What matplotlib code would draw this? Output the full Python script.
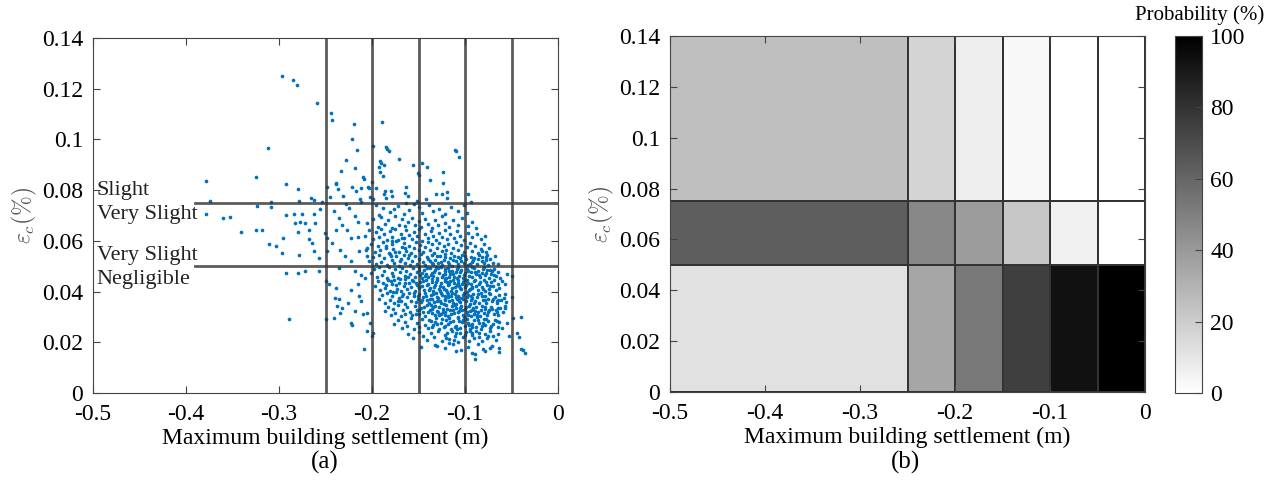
import numpy as np
import matplotlib
matplotlib.use("Agg")
import matplotlib.pyplot as plt
from matplotlib.ticker import FormatStrFormatter

plt.rcParams['font.family'] = ['Liberation Serif', 'DejaVu Serif']
plt.rcParams['mathtext.fontset'] = 'cm'
plt.rcParams['axes.unicode_minus'] = False

# --- (a) scatter: outlying points (settlement m, strain %)
sparse_pts = [
    (-0.297, 0.1250), (-0.285, 0.1236), (-0.281, 0.1215), (-0.259, 0.1143),
    (-0.244, 0.1104), (-0.243, 0.1077), (-0.219, 0.1060), (-0.189, 0.1068),
    (-0.312, 0.0968), (-0.221, 0.1000), (-0.216, 0.0957), (-0.199, 0.0976),
    (-0.185, 0.0972), (-0.184, 0.0963), (-0.182, 0.0955), (-0.111, 0.0960),
    (-0.110, 0.0954), (-0.106, 0.0932), (-0.378, 0.0837), (-0.325, 0.0853),
    (-0.292, 0.0823), (-0.280, 0.0805), (-0.248, 0.0811), (-0.239, 0.0823),
    (-0.222, 0.0811), (-0.209, 0.0845), (-0.203, 0.0810), (-0.228, 0.0920),
    (-0.218, 0.0889), (-0.191, 0.0914), (-0.190, 0.0909), (-0.187, 0.0900),
    (-0.193, 0.0890), (-0.191, 0.0873), (-0.188, 0.0857), (-0.171, 0.0922),
    (-0.156, 0.0899), (-0.151, 0.0867), (-0.146, 0.0909), (-0.141, 0.0890),
    (-0.150, 0.0860), (-0.124, 0.0870), (-0.124, 0.0827), (-0.138, 0.0840),
    (-0.125, 0.0784), (-0.119, 0.0794), (-0.097, 0.0784), (-0.094, 0.0755),
    (-0.233, 0.0877), (-0.210, 0.0851), (-0.239, 0.0830), (-0.237, 0.0805),
    (-0.217, 0.0797), (-0.212, 0.0810), (-0.204, 0.0811), (-0.200, 0.0834),
    (-0.196, 0.0808), (-0.180, 0.0798), (-0.163, 0.0811), (-0.161, 0.0777),
    (-0.245, 0.0774), (-0.231, 0.0777), (-0.202, 0.0774), (-0.187, 0.0785),
    (-0.185, 0.0768), (-0.213, 0.0765),
    (-0.374, 0.0757), (-0.379, 0.0707), (-0.360, 0.0692), (-0.353, 0.0693),
    (-0.341, 0.0635), (-0.324, 0.0738), (-0.325, 0.0644), (-0.318, 0.0644),
    (-0.309, 0.0755), (-0.309, 0.0735), (-0.293, 0.0702), (-0.296, 0.0613),
    (-0.311, 0.0587), (-0.303, 0.0578), (-0.297, 0.0552), (-0.284, 0.0705),
    (-0.283, 0.0670), (-0.280, 0.0633), (-0.277, 0.0676), (-0.275, 0.0705),
    (-0.272, 0.0670), (-0.268, 0.0644), (-0.266, 0.0768), (-0.278, 0.0757),
    (-0.262, 0.0761), (-0.262, 0.0705), (-0.261, 0.0672), (-0.256, 0.0726),
    (-0.254, 0.0755), (-0.278, 0.0545), (-0.268, 0.0607), (-0.264, 0.0591),
    (-0.262, 0.0559), (-0.257, 0.0532), (-0.251, 0.0631), (-0.248, 0.0611),
    (-0.248, 0.0559), (-0.243, 0.0591), (-0.241, 0.0716), (-0.236, 0.0689),
    (-0.239, 0.0644), (-0.232, 0.0663), (-0.228, 0.0744), (-0.225, 0.0729),
    (-0.218, 0.0698), (-0.212, 0.0755), (-0.215, 0.0676), (-0.227, 0.0644),
    (-0.223, 0.0611), (-0.215, 0.0617), (-0.234, 0.0565), (-0.229, 0.0539),
    (-0.223, 0.0519), (-0.214, 0.0559), (-0.206, 0.0565), (-0.205, 0.0539),
    (-0.292, 0.0474), (-0.280, 0.0474), (-0.272, 0.0480), (-0.257, 0.0483),
    (-0.236, 0.0493), (-0.218, 0.0480), (-0.212, 0.0467), (-0.208, 0.0454),
    (-0.250, 0.0441), (-0.246, 0.0428), (-0.239, 0.0415), (-0.240, 0.0376),
    (-0.236, 0.0369), (-0.238, 0.0343), (-0.232, 0.0336), (-0.234, 0.0317),
    (-0.226, 0.0356), (-0.223, 0.0408), (-0.215, 0.0428), (-0.214, 0.0382),
    (-0.212, 0.0362), (-0.210, 0.0310), (-0.218, 0.0323), (-0.205, 0.0317),
    (-0.223, 0.0277), (-0.221, 0.0267), (-0.250, 0.0290), (-0.241, 0.0297),
    (-0.289, 0.0293), (-0.202, 0.0277), (-0.200, 0.0225), (-0.199, 0.0238),
    (-0.209, 0.0173), (-0.205, 0.0245),
    (-0.048, 0.0297), (-0.040, 0.0300), (-0.044, 0.0238), (-0.042, 0.0219),
    (-0.040, 0.0173), (-0.038, 0.0169), (-0.035, 0.0156), (-0.049, 0.0378),
    (-0.049, 0.0460), (-0.055, 0.0471), (-0.057, 0.0428), (-0.057, 0.0389),
    (-0.057, 0.0334), (-0.055, 0.0277), (-0.053, 0.0225), (-0.063, 0.0160),
    (-0.063, 0.0179), (-0.065, 0.0336), (-0.066, 0.0362), (-0.069, 0.0467),
    (-0.073, 0.0487), (-0.077, 0.0526), (-0.076, 0.0546), (-0.082, 0.0559),
    (-0.089, 0.0133), (-0.089, 0.0153), (-0.110, 0.0166), (-0.130, 0.0186),
    (-0.147, 0.0182), (-0.078, 0.0166), (-0.073, 0.0179),
]

# --- (a) scatter: dense cloud, (settlement mm, strain 1e-4 %)
dense_pts = [
    (-199, 765), (-178, 776), (-165, 789), (-142, 766), (-131, 784), (-186, 797), (-152, 758), (-119, 770),
    (-196, 742), (-188, 728), (-181, 712), (-172, 738), (-166, 705), (-160, 721), (-155, 746), (-149, 733),
    (-146, 709), (-139, 741), (-134, 718), (-128, 727), (-121, 704), (-115, 735), (-108, 716), (-101, 742),
    (-98, 709), (-192, 703), (-176, 724), (-163, 748),
    (-205, 672), (-199, 688), (-194, 655), (-190, 694), (-186, 667), (-183, 681), (-179, 652), (-175, 698),
    (-171, 664), (-168, 685), (-164, 659), (-161, 676), (-157, 692), (-154, 661), (-150, 679), (-147, 655),
    (-143, 688), (-140, 668), (-136, 652), (-132, 684), (-129, 662), (-125, 697), (-121, 671), (-117, 655),
    (-113, 683), (-108, 664), (-103, 692), (-97, 657), (-93, 676), (-88, 651),
    (-208, 621), (-203, 642), (-199, 608), (-196, 633), (-193, 615), (-190, 648), (-187, 626), (-184, 604),
    (-181, 638), (-178, 617), (-175, 645), (-172, 603), (-169, 628), (-166, 612), (-163, 641), (-160, 622),
    (-157, 606), (-155, 634), (-152, 618), (-149, 647), (-146, 601), (-143, 627), (-140, 613), (-137, 639),
    (-134, 620), (-131, 605), (-128, 632), (-125, 615), (-122, 644), (-119, 609), (-116, 628), (-112, 612),
    (-109, 637), (-105, 619), (-101, 604), (-97, 631), (-92, 614), (-87, 626), (-83, 608), (-79, 618),
    (-205, 572), (-201, 588), (-197, 556), (-194, 579), (-191, 563), (-188, 595), (-185, 571), (-182, 553),
    (-179, 586), (-177, 566), (-174, 598), (-171, 558), (-168, 577), (-166, 592), (-163, 561), (-160, 581),
    (-158, 553), (-155, 570), (-153, 594), (-150, 562), (-148, 583), (-145, 556), (-143, 575), (-140, 597),
    (-138, 564), (-135, 586), (-133, 552), (-130, 571), (-128, 593), (-125, 559), (-123, 578), (-120, 562),
    (-118, 589), (-115, 551), (-113, 573), (-110, 596), (-107, 565), (-104, 582), (-101, 556), (-98, 574),
    (-95, 591), (-92, 561), (-89, 578), (-86, 553), (-83, 569), (-80, 588), (-77, 557), (-74, 571),
    (-203, 521), (-199, 538), (-196, 507), (-193, 546), (-190, 515), (-187, 532), (-184, 503), (-181, 548),
    (-179, 524), (-176, 511), (-174, 539), (-171, 502), (-169, 527), (-166, 545), (-164, 514), (-161, 533),
    (-159, 506), (-157, 522), (-154, 541), (-152, 509), (-150, 528), (-147, 547), (-145, 516), (-143, 503),
    (-141, 535), (-138, 520), (-136, 544), (-134, 508), (-132, 526), (-129, 512), (-127, 539), (-125, 504),
    (-123, 523), (-121, 548), (-118, 515), (-116, 531), (-114, 502), (-112, 541), (-110, 519), (-107, 507),
    (-105, 533), (-103, 546), (-101, 512), (-99, 527), (-97, 503), (-94, 538), (-92, 517), (-90, 531),
    (-87, 508), (-85, 544), (-82, 522), (-80, 511), (-77, 535), (-75, 504), (-73, 527), (-70, 514),
    (-68, 539), (-65, 508),
    (-201, 472), (-198, 488), (-195, 456), (-192, 495), (-189, 467), (-187, 481), (-184, 453), (-182, 498),
    (-179, 474), (-177, 461), (-175, 489), (-172, 452), (-170, 477), (-168, 494), (-165, 463), (-163, 482),
    (-161, 457), (-159, 471), (-156, 491), (-154, 459), (-152, 478), (-150, 496), (-148, 466), (-146, 453),
    (-144, 485), (-142, 470), (-140, 458), (-138, 493), (-136, 475), (-134, 461), (-132, 487), (-130, 452),
    (-128, 472), (-126, 498), (-124, 464), (-122, 481), (-120, 455), (-118, 492), (-116, 469), (-114, 483),
    (-112, 457), (-110, 476), (-108, 495), (-106, 461), (-104, 486), (-102, 452), (-100, 473), (-98, 490),
    (-96, 463), (-94, 478), (-92, 456), (-90, 494), (-88, 468), (-86, 482), (-84, 459), (-82, 475),
    (-80, 497), (-78, 464), (-76, 486), (-74, 453), (-72, 471), (-69, 489), (-67, 461), (-64, 477),
    (-62, 455), (-117, 459), (-131, 496), (-143, 462), (-109, 453), (-121, 490),
    (-197, 423), (-194, 441), (-191, 408), (-188, 432), (-186, 416), (-183, 447), (-181, 403), (-178, 428),
    (-176, 444), (-173, 412), (-171, 435), (-169, 401), (-166, 421), (-164, 448), (-162, 409), (-160, 433),
    (-158, 418), (-156, 442), (-154, 404), (-152, 426), (-150, 413), (-148, 439), (-146, 422), (-144, 405),
    (-142, 447), (-140, 431), (-138, 415), (-136, 438), (-134, 402), (-132, 427), (-130, 444), (-128, 411),
    (-126, 434), (-124, 419), (-122, 449), (-120, 406), (-118, 425), (-116, 441), (-114, 413), (-112, 432),
    (-110, 401), (-108, 446), (-106, 423), (-104, 409), (-102, 437), (-100, 418), (-98, 444), (-96, 405),
    (-94, 429), (-92, 414), (-90, 440), (-88, 422), (-86, 407), (-84, 436), (-82, 417), (-80, 447),
    (-78, 403), (-76, 426), (-74, 412), (-72, 438), (-70, 421), (-67, 405), (-65, 431), (-63, 415),
    (-60, 442), (-111, 418), (-119, 437), (-127, 402), (-103, 428), (-95, 412), (-133, 419), (-115, 404),
    (-107, 433), (-99, 426),
    (-192, 372), (-189, 388), (-186, 356), (-184, 395), (-181, 367), (-179, 381), (-176, 353), (-174, 398),
    (-171, 374), (-169, 361), (-167, 389), (-164, 352), (-162, 377), (-160, 394), (-158, 363), (-155, 382),
    (-153, 357), (-151, 371), (-149, 391), (-147, 359), (-145, 378), (-143, 396), (-141, 366), (-139, 353),
    (-137, 385), (-135, 370), (-133, 358), (-131, 393), (-129, 375), (-127, 361), (-125, 387), (-123, 352),
    (-121, 372), (-119, 398), (-117, 364), (-115, 381), (-113, 355), (-111, 392), (-109, 369), (-107, 383),
    (-105, 357), (-103, 376), (-101, 395), (-99, 361), (-97, 386), (-95, 352), (-93, 373), (-91, 390),
    (-89, 363), (-87, 378), (-85, 356), (-83, 394), (-81, 368), (-79, 382), (-77, 354), (-75, 371),
    (-73, 389), (-71, 361), (-68, 377), (-66, 353), (-63, 385), (-61, 366), (-58, 375), (-56, 359),
    (-114, 367), (-122, 384), (-106, 374), (-98, 378), (-130, 362), (-110, 351), (-118, 389), (-94, 366),
    (-102, 386), (-126, 396),
    (-186, 322), (-183, 341), (-180, 308), (-177, 333), (-175, 317), (-172, 346), (-169, 304), (-167, 328),
    (-164, 313), (-162, 339), (-159, 321), (-157, 306), (-154, 344), (-152, 326), (-150, 311), (-147, 337),
    (-145, 319), (-143, 302), (-141, 348), (-138, 329), (-136, 314), (-134, 341), (-132, 306), (-130, 324),
    (-128, 339), (-126, 311), (-124, 332), (-122, 318), (-120, 347), (-118, 303), (-116, 327), (-114, 342),
    (-112, 315), (-110, 334), (-108, 301), (-106, 322), (-104, 345), (-102, 309), (-100, 331), (-98, 318),
    (-96, 343), (-94, 305), (-92, 326), (-90, 312), (-88, 338), (-86, 321), (-84, 304), (-82, 345),
    (-80, 317), (-78, 332), (-76, 308), (-74, 326), (-72, 341), (-69, 313), (-67, 329), (-64, 307),
    (-62, 336), (-59, 319), (-57, 345), (-113, 329), (-121, 308), (-105, 337), (-97, 306), (-129, 318),
    (-137, 347), (-89, 324),
    (-176, 272), (-172, 289), (-168, 258), (-165, 281), (-162, 265), (-158, 294), (-155, 253), (-152, 277),
    (-149, 262), (-146, 291), (-143, 270), (-140, 255), (-137, 284), (-134, 268), (-131, 297), (-128, 252),
    (-126, 276), (-123, 261), (-120, 289), (-118, 271), (-115, 254), (-113, 283), (-110, 266), (-108, 296),
    (-105, 258), (-103, 279), (-100, 264), (-98, 292), (-95, 253), (-93, 274), (-90, 287), (-88, 261),
    (-85, 278), (-83, 251), (-80, 293), (-78, 267), (-75, 282), (-73, 256), (-70, 274), (-68, 289),
    (-65, 262), (-63, 279), (-60, 255), (-117, 294), (-102, 286), (-87, 299), (-132, 281), (-109, 251),
    (-96, 268), (-81, 276),
    (-161, 232), (-156, 218), (-150, 241), (-145, 226), (-141, 209), (-137, 237), (-133, 221), (-129, 244),
    (-125, 205), (-121, 229), (-117, 213), (-114, 246), (-111, 224), (-108, 202), (-105, 236), (-102, 219),
    (-99, 241), (-96, 207), (-93, 228), (-90, 215), (-88, 245), (-85, 222), (-82, 204), (-79, 234),
    (-76, 217), (-73, 243), (-70, 226), (-67, 208), (-64, 231), (-112, 210), (-92, 236), (-119, 238),
    (-132, 189), (-122, 176), (-113, 195), (-104, 168), (-97, 183), (-92, 159), (-86, 192), (-81, 174),
    (-71, 186), (-117, 199),
    # extra points in the densest part of the cloud
    (-157, 447), (-153, 433), (-149, 418), (-145, 441), (-141, 425), (-139, 407), (-135, 449), (-131, 436),
    (-127, 423), (-123, 410), (-121, 443), (-117, 429), (-113, 446), (-109, 425), (-105, 414), (-101, 447),
    (-97, 433), (-93, 420), (-89, 447), (-85, 428), (-81, 411), (-77, 437), (-73, 423), (-69, 446),
    (-155, 396), (-151, 382), (-146, 367), (-142, 384), (-138, 371), (-134, 389), (-130, 377), (-126, 354),
    (-122, 366), (-118, 378), (-114, 393), (-110, 380), (-106, 362), (-102, 369), (-98, 397), (-94, 383),
    (-90, 354), (-86, 392), (-82, 381), (-78, 367), (-74, 394), (-70, 372), (-65, 367),
    (-153, 312), (-149, 329), (-144, 340), (-140, 319), (-136, 331), (-132, 345), (-128, 308), (-124, 321),
    (-119, 333), (-115, 312), (-111, 346), (-107, 318), (-103, 328), (-99, 340), (-95, 324), (-91, 336),
    (-87, 309), (-83, 328), (-79, 341), (-75, 319), (-71, 333), (-66, 321),
    (-150, 487), (-146, 474), (-141, 492), (-137, 466), (-133, 478), (-129, 491), (-125, 457), (-121, 469),
    (-117, 482), (-113, 470), (-109, 488), (-105, 476), (-101, 464), (-97, 481), (-93, 495), (-89, 477),
    (-85, 465), (-81, 490), (-77, 474), (-71, 480),
    (-139, 287), (-135, 262), (-130, 273), (-125, 290), (-121, 265), (-116, 279), (-111, 259), (-106, 283),
    (-101, 298), (-97, 276), (-92, 262), (-86, 288), (-82, 263), (-77, 291), (-72, 265), (-66, 283),
    (-140, 528), (-135, 514), (-130, 540), (-126, 518), (-122, 535), (-117, 509), (-113, 524), (-108, 538),
    (-104, 521), (-100, 540), (-95, 510), (-91, 524), (-86, 530), (-82, 536),
    (-180, 442), (-174, 425), (-170, 448), (-165, 432), (-185, 425), (-177, 399), (-168, 382), (-172, 361),
    (-180, 540), (-175, 555), (-170, 520), (-165, 570), (-160, 545), (-185, 580), (-178, 600), (-168, 610),
    (-120, 215), (-110, 235), (-100, 228), (-95, 245), (-85, 235), (-75, 225),
]

settle_limits = [-0.25, -0.2, -0.15, -0.1, -0.05]
strain_limits = [0.075, 0.05]
zone_labels = [("Slight", 0.0800), ("Very Slight", 0.0702), ("Very Slight", 0.0544), ("Negligible", 0.0446)]

# --- (b) probability map (%)
x_edges = [-0.5, -0.25, -0.2, -0.15, -0.1, -0.05, 0.0]
y_edges = [0.0, 0.05, 0.075, 0.14]
prob_negligible = [12, 35, 53, 75, 93, 100]
prob_very_slight = [63, 47, 39, 22, 6, 0]
prob_slight = [25, 17, 7, 3, 0, 0]

sx = [p[0] for p in sparse_pts] + [p[0] / 1000 for p in dense_pts]
sy = [p[1] for p in sparse_pts] + [p[1] / 10000 for p in dense_pts]

fs = 17
fig = plt.figure(figsize=(12.67, 4.83), dpi=100)
ax1 = fig.add_axes([93 / 1267, 1 - 393 / 483, 465 / 1267, 355 / 483])
ax2 = fig.add_axes([670 / 1267, 1 - 392 / 483, 475 / 1267, 356 / 483])
cax = fig.add_axes([1175 / 1267, 1 - 393 / 483, 27 / 1267, 357 / 483])

ax1.scatter(sx, sy, s=7, c='#0072BD', marker='o', linewidths=0, zorder=2)
for v in settle_limits:
    ax1.axvline(v, color='#333333', lw=2, alpha=0.8, zorder=3)
for h in strain_limits:
    ax1.plot([-0.39, 0], [h, h], color='#333333', lw=2, alpha=0.8, zorder=3)
for txt, yv in zone_labels:
    ax1.text(-0.496, yv, txt, fontsize=fs - 1, va='center', ha='left', color='#222')

grid = np.array([prob_negligible, prob_very_slight, prob_slight])
mesh = ax2.pcolormesh(x_edges, y_edges, grid, cmap='gray_r', vmin=0, vmax=100,
                      edgecolors='#333333', linewidth=1.2)
cb = fig.colorbar(mesh, cax=cax, ticks=[0, 20, 40, 60, 80, 100])
cb.outline.set_edgecolor('#444')
cb.ax.tick_params(labelsize=fs, direction='in', length=5, color='#444', pad=6)
fig.text(1264 / 1267, 1 - 15 / 483, 'Probability (%)', fontsize=fs - 2, ha='right', va='center')

for ax in (ax1, ax2):
    ax.set_xlim(-0.5, 0)
    ax.set_ylim(0, 0.14)
    ax.set_xticks([-0.5, -0.4, -0.3, -0.2, -0.1, 0])
    ax.set_yticks([0, 0.02, 0.04, 0.06, 0.08, 0.1, 0.12, 0.14])
    ax.xaxis.set_major_formatter(FormatStrFormatter('%g'))
    ax.yaxis.set_major_formatter(FormatStrFormatter('%g'))
    ax.tick_params(labelsize=fs, direction='in', top=True, right=True, length=5, color='#444')
    ax.tick_params(axis='x', pad=8)
    ax.tick_params(axis='y', pad=7)
    for sp in ax.spines.values():
        sp.set_color('#444')
    ax.set_xlabel('Maximum building settlement (m)', fontsize=fs, labelpad=2)
    ax.set_ylabel(r'$\varepsilon_c(\%)$', fontsize=fs, color='#555', labelpad=2)

fig.text(325 / 1267, 1 - 462 / 483, '(a)', fontsize=fs + 1, ha='center', va='center')
fig.text(905 / 1267, 1 - 462 / 483, '(b)', fontsize=fs + 1, ha='center', va='center')

fig.savefig('out.png', dpi=100)
